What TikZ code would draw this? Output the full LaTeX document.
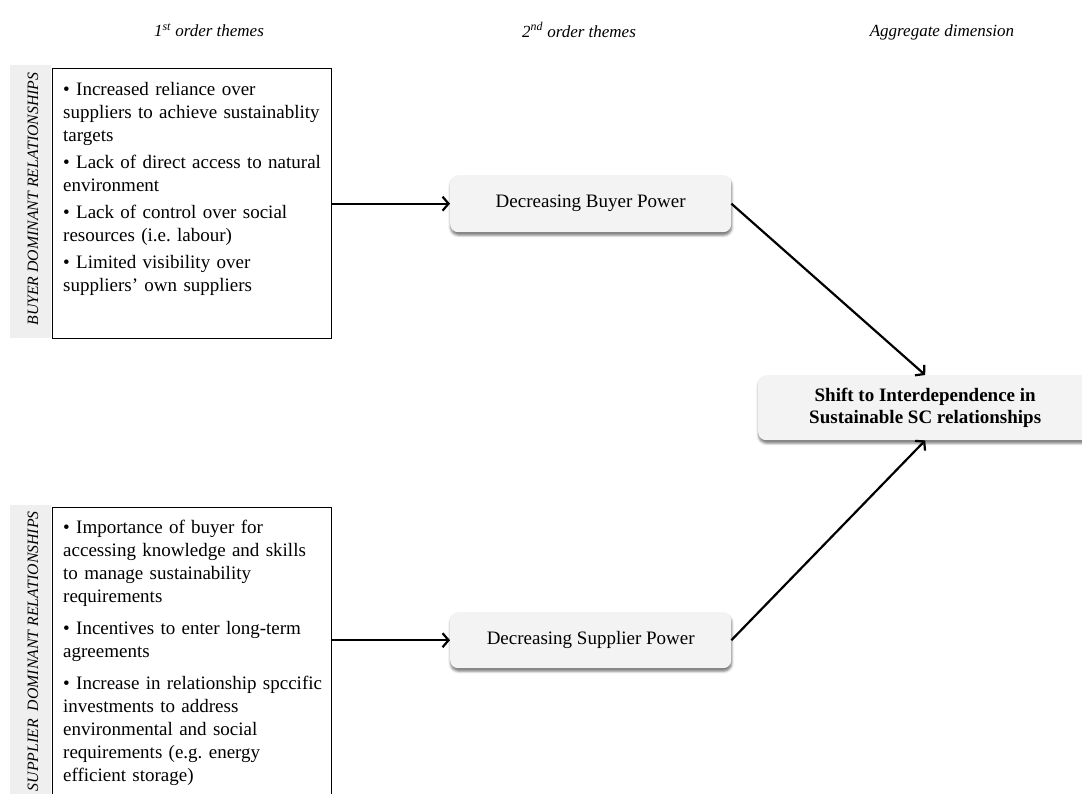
\documentclass[tikz,border=0pt]{standalone}
\usepackage{fontspec}
\setmainfont{Liberation Serif}
\usetikzlibrary{arrows.meta,shadows.blur}

\definecolor{stripgray}{HTML}{EFEFEF}
\definecolor{boxgray}{HTML}{F3F3F3}

\tikzset{
  head/.style={font=\fontsize{17}{20}\selectfont\itshape, inner sep=0pt},
  strip/.style={fill=stripgray, draw=none, inner sep=0pt},
  striplabel/.style={rotate=90, font=\fontsize{15.8}{18}\selectfont\itshape, inner sep=0pt},
  themebox/.style={draw=black, line width=1.4pt, fill=white, inner sep=0pt},
  themetext/.style={anchor=north west, text width=262pt, align=left, inner sep=0pt,
    font=\fontsize{19}{23}\selectfont\frenchspacing},
  powerbox/.style={fill=boxgray, rounded corners=8pt, inner sep=0pt, anchor=north west,
    blur shadow={shadow xshift=0.5pt, shadow yshift=-3pt, shadow blur radius=2.5pt, shadow opacity=55},
    font=\fontsize{19}{23}\selectfont},
  conn/.style={line width=2.2pt, -{Straight Barb[length=6pt,width=14pt]}},
}

\begin{document}
\begin{tikzpicture}[x=1pt,y=-1pt]
\useasboundingbox (0,0) rectangle (1082,794);

% column headings
\node[head] (h1) at (209,30) {1\textsuperscript{st} order themes};
\node[head] (h2) at (579,30) {2\textsuperscript{nd} order themes};
\node[head] (h3) at (942,32) {Aggregate dimension};

% buyer dominant block
\node[strip, minimum width=41pt, minimum height=273pt, anchor=north west] (bstrip) at (10,65) {};
\node[striplabel] (blabel) at (33,199) {BUYER DOMINANT RELATIONSHIPS};
\node[themebox, minimum width=279pt, minimum height=270pt, anchor=north west] (bbox) at (52,68) {};
\node[themetext] (btext) at (63,82) {%
• Increased reliance over\\
suppliers to achieve sustainablity\\
targets\\[4pt]
• Lack of direct access to natural\\
environment\\[4pt]
• Lack of control over social\\
resources (i.e. labour)\\[4pt]
• Limited visibility over\\
suppliers’ own suppliers};

% supplier dominant block
\node[strip, minimum width=41pt, minimum height=300pt, anchor=north west] (sstrip) at (10,505) {};
\node[striplabel, anchor=east] (slabel) at (33,511) {SUPPLIER\ \ DOMINANT RELATIONSHIPS};
\node[themebox, minimum width=279pt, minimum height=300pt, anchor=north west] (sbox) at (52,507) {};
\node[themetext] (stext) at (63,520) {%
• Importance of buyer for\\
accessing knowledge and skills\\
to manage sustainability\\
requirements\\[9pt]
• Incentives to enter long-term\\
agreements\\[9pt]
• Increase in relationship spccific\\
investments to address\\
environmental and social\\
requirements (e.g. energy\\
efficient storage)};

% second order themes
\node[powerbox, minimum width=281pt, minimum height=57pt] (bp) at (450,175) {Decreasing Buyer Power};
\node[powerbox, minimum width=281pt, minimum height=56pt] (sp) at (450,612) {Decreasing Supplier Power};

% aggregate dimension
\node[powerbox, minimum width=334pt, minimum height=65pt, align=center,
  font=\fontsize{19}{22}\selectfont\bfseries] (agg) at (758,375)
  {Shift to Interdependence in\\Sustainable SC relationships};

% connectors
\draw[conn] (bbox.east) -- (bp.west);
\draw[conn] (sbox.east |- sp.west) -- (sp.west);
\draw[conn] (bp.east) -- (agg.north);
\draw[conn] (sp.east) -- (agg.south);
\end{tikzpicture}
\end{document}
